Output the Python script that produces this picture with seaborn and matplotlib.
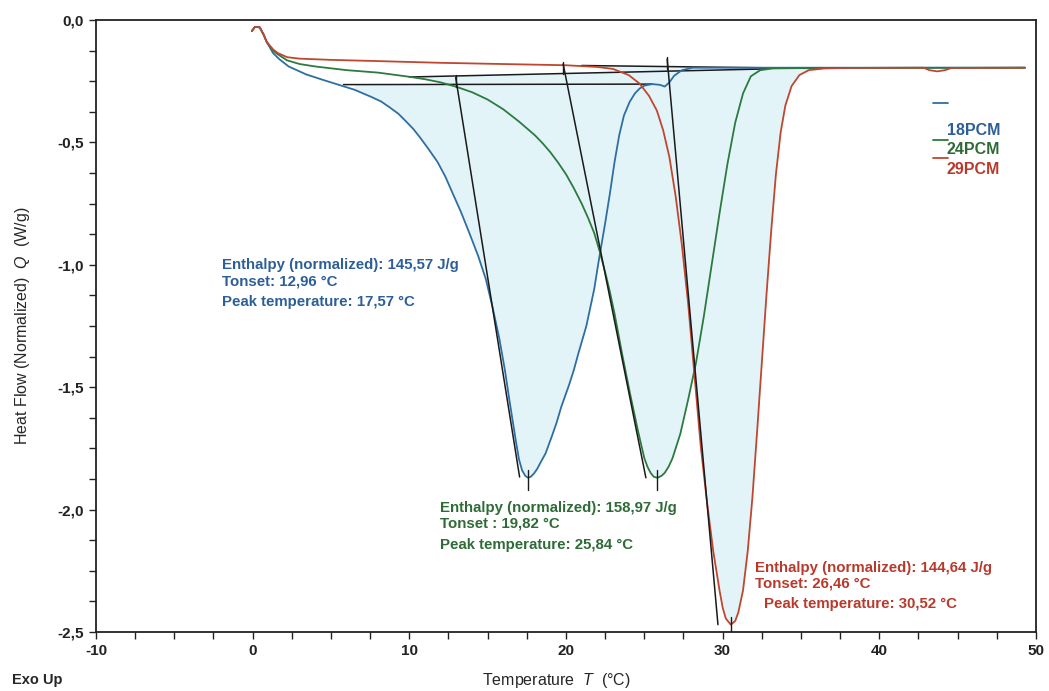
import numpy as np
import pandas as pd
import matplotlib
matplotlib.use("Agg")
import matplotlib.pyplot as plt
from matplotlib.ticker import MultipleLocator, FuncFormatter
import seaborn as sns

# DSC heating curves (T in °C, Q in W/g)
t_18 = [-0.05, 0.15, 0.45, 0.7, 0.9, 1.3, 1.7, 2.3, 3.4, 4.5, 5.5, 6.5, 7.6, 8.2, 8.7, 9.3,
        9.8, 10.25, 10.66, 11.2, 11.8, 12.3, 12.76, 13.3, 13.83, 14.4, 14.89, 15.3, 15.74,
        16.1, 16.38, 16.8, 17.0, 17.2, 17.4, 17.57, 17.75, 17.95, 18.15, 18.4, 18.7, 19.1,
        19.4, 19.7, 20.2, 20.5, 20.8, 21.3, 21.8, 22.1, 22.5, 22.8, 23.1, 23.4, 23.7, 24.06,
        24.4, 24.7, 25.0, 25.5, 26.0, 26.3, 26.6, 26.9, 27.4, 28.1, 35.0, 49.3]
q_18 = [-0.045, -0.028, -0.03, -0.06, -0.09, -0.135, -0.16, -0.19, -0.222, -0.245, -0.265,
        -0.285, -0.315, -0.333, -0.355, -0.383, -0.415, -0.445, -0.478, -0.525, -0.58,
        -0.64, -0.707, -0.785, -0.87, -0.965, -1.06, -1.17, -1.30, -1.43, -1.55, -1.72,
        -1.795, -1.84, -1.862, -1.87, -1.866, -1.853, -1.835, -1.805, -1.77, -1.70, -1.645,
        -1.58, -1.49, -1.43, -1.36, -1.25, -1.10, -0.98, -0.83, -0.71, -0.58, -0.47, -0.39,
        -0.335, -0.3, -0.28, -0.268, -0.262, -0.265, -0.272, -0.255, -0.228, -0.205,
        -0.195, -0.195, -0.195]

t_24 = [-0.05, 0.15, 0.45, 0.7, 0.9, 1.3, 1.6, 2.2, 3.0, 4.0, 6.0, 8.0, 10.0, 11.0, 12.0,
        13.0, 14.0, 15.0, 16.0, 17.0, 18.0, 18.5, 19.0, 19.5, 20.0, 20.5, 21.0, 21.4, 21.8,
        22.15, 22.5, 22.8, 23.1, 23.6, 24.1, 24.6, 25.0, 25.2, 25.4, 25.6, 25.84, 26.1,
        26.3, 26.55, 26.8, 27.3, 27.8, 28.3, 28.8, 29.3, 29.8, 30.3, 30.8, 31.3, 31.8, 32.4,
        33.2, 36.0, 49.3]
q_24 = [-0.045, -0.028, -0.03, -0.06, -0.09, -0.125, -0.14, -0.165, -0.18, -0.19, -0.205,
        -0.215, -0.232, -0.242, -0.255, -0.273, -0.295, -0.325, -0.365, -0.415, -0.47,
        -0.503, -0.54, -0.583, -0.63, -0.687, -0.75, -0.807, -0.87, -0.945, -1.03, -1.11,
        -1.2, -1.37, -1.53, -1.68, -1.79, -1.825, -1.85, -1.866, -1.87, -1.862, -1.85,
        -1.825, -1.79, -1.69, -1.55, -1.40, -1.21, -1.00, -0.79, -0.59, -0.42, -0.30,
        -0.23, -0.205, -0.198, -0.196, -0.195]

t_29 = [-0.05, 0.15, 0.45, 0.7, 0.9, 1.3, 1.6, 2.2, 3.0, 5.0, 8.0, 12.0, 16.0, 20.0, 22.0,
        23.0, 24.0, 24.7, 25.3, 25.8, 26.2, 26.6, 27.0, 27.4, 27.8, 28.2, 28.6, 29.0, 29.4,
        29.8, 30.0, 30.2, 30.52, 30.8, 31.0, 31.3, 31.6, 31.9, 32.2, 32.5, 32.8, 33.1, 33.4,
        33.7, 34.0, 34.4, 34.9, 35.5, 36.5, 38.0, 42.8, 43.2, 43.7, 44.2, 44.6, 49.3]
q_29 = [-0.045, -0.028, -0.03, -0.06, -0.09, -0.12, -0.135, -0.152, -0.158, -0.163, -0.168,
        -0.175, -0.18, -0.185, -0.192, -0.2, -0.225, -0.26, -0.31, -0.37, -0.45, -0.56,
        -0.72, -0.92, -1.16, -1.45, -1.74, -1.97, -2.17, -2.33, -2.40, -2.445, -2.47,
        -2.455, -2.42, -2.33, -2.17, -1.95, -1.68, -1.40, -1.12, -0.86, -0.63, -0.46,
        -0.35, -0.27, -0.225, -0.205, -0.198, -0.196, -0.195, -0.205, -0.21, -0.205,
        -0.196, -0.195]

samples = ["18PCM", "24PCM", "29PCM"]
colors = ["#2f6ea3", "#2d7a3e", "#c0462f"]
text_colors = ["#2c5f98", "#2e6b36", "#b83a2c"]

# integration baselines (start/end)
base_t = [[5.8, 25.5], [10.0, 32.8], [21.0, 36.0]]
base_q = [[-0.264, -0.262], [-0.233, -0.200], [-0.186, -0.198]]

# onset tangents
onset = [12.96, 19.82, 26.46]
tan_top_q = [-0.235, -0.18, -0.16]
tan_end_t = [17.04, 25.1, 29.7]
tan_end_q = [-1.867, -1.87, -2.47]

peak_t = [17.57, 25.84, 30.52]
peak_q = [-1.87, -1.87, -2.47]
enthalpy = [145.57, 158.97, 144.64]

curves = [(t_18, q_18), (t_24, q_24), (t_29, q_29)]
df = pd.concat([pd.DataFrame({"T": t, "Q": q, "sample": s})
                for (t, q), s in zip(curves, samples)], ignore_index=True)

sns.set_theme(style="ticks")
plt.rcParams["font.family"] = ["Liberation Sans", "DejaVu Sans"]
plt.rcParams["mathtext.fontset"] = "custom"
plt.rcParams["mathtext.it"] = "Liberation Sans:italic"
plt.rcParams["mathtext.rm"] = "Liberation Sans"

fig = plt.figure(figsize=(10.49, 6.91), dpi=100)
ax = fig.add_axes([0.0915, 0.0854, 0.8961, 0.8857])

fill_col = "#e3f4f9"
for (t, q), bt, bq in zip(curves, base_t, base_q):
    t = np.array(t); q = np.array(q)
    m = (t >= bt[0]) & (t <= bt[1])
    ax.fill_between(t[m], q[m], np.interp(t[m], bt, bq), color=fill_col, lw=0, zorder=1)

for bt, bq in zip(base_t, base_q):
    ax.plot(bt, bq, color="#1a1a1a", lw=1.1, zorder=2)

sns.lineplot(data=df, x="T", y="Q", hue="sample", palette=colors, sort=False,
             estimator=None, lw=1.3, legend=False, ax=ax, zorder=3)

for i in range(3):
    ax.plot([onset[i], tan_end_t[i]], [tan_top_q[i], tan_end_q[i]], color="#1a1a1a", lw=1.1, zorder=4)
    ax.plot([onset[i], onset[i]], [tan_top_q[i] + 0.01, tan_top_q[i] - 0.04], color="#1a1a1a", lw=1.0, zorder=4)
    ax.plot([peak_t[i], peak_t[i]], [peak_q[i] + 0.03, peak_q[i] - 0.05], color="#1a1a1a", lw=1.0, zorder=4)

def fmt(v):
    return f"{v:.2f}".replace(".", ",")

txt_pos = [(-1.98, [-1.0, -1.07, -1.152], [0, 0, 0]),
           (11.93, [-1.993, -2.055, -2.145], [0, 0, 0]),
           (32.04, [-2.24, -2.30, -2.386], [0, 0, 0.6])]
sep = [": ", " : ", ": "]
for i, (x0, ys, dx) in enumerate(txt_pos):
    lines = [f"Enthalpy (normalized): {fmt(enthalpy[i])} J/g",
             f"Tonset{sep[i]}{fmt(onset[i])} °C",
             f"Peak temperature: {fmt(peak_t[i])} °C"]
    for s, y, d in zip(lines, ys, dx):
        ax.text(x0 + d, y, s, color=text_colors[i], fontsize=10.8, fontweight="bold",
                va="center", ha="left", zorder=5)

# legend drawn like the instrument software: dash above-left of label
leg_dash_y = [0.864, 0.804, 0.775]
leg_text_y = [0.820, 0.788, 0.755]
for i in range(3):
    ax.plot([0.890, 0.906], [leg_dash_y[i]] * 2, color=colors[i], lw=1.3, transform=ax.transAxes)
    ax.text(0.905, leg_text_y[i], samples[i], color=text_colors[i], fontsize=11.5,
            fontweight="bold", va="center", ha="left", transform=ax.transAxes)

ax.set_xlim(-10, 50)
ax.set_ylim(-2.5, 0)
ax.xaxis.set_major_locator(MultipleLocator(10))
ax.xaxis.set_minor_locator(MultipleLocator(2.5))
ax.yaxis.set_major_locator(MultipleLocator(0.5))
ax.yaxis.set_minor_locator(MultipleLocator(0.125))
ax.yaxis.set_major_formatter(FuncFormatter(lambda v, p: f"{(0.0 if abs(v) < 1e-9 else v):.1f}".replace(".", ",")))
ax.xaxis.set_major_formatter(FuncFormatter(lambda v, p: f"{int(round(v))}"))
ax.tick_params(which="both", direction="out", length=5, width=1.0, colors="#222222",
               labelsize=11, top=False, right=False)
for lab in ax.get_xticklabels() + ax.get_yticklabels():
    lab.set_fontweight("bold")
for sp in ax.spines.values():
    sp.set_visible(True)
    sp.set_color("#222222")
    sp.set_linewidth(1.3)

ax.set_xlabel("Temperature  $\\mathit{T}$  (°C)", fontsize=11.5)
ax.xaxis.set_label_coords(0.49, -0.064)
ax.set_ylabel("Heat Flow (Normalized)  $\\mathit{Q}$  (W/g)", fontsize=11.5)
ax.yaxis.set_label_coords(-0.068, 0.5)
fig.text(12 / 1049, 1 - 680 / 691, "Exo Up", fontsize=10.5, fontweight="bold", va="center", ha="left")

fig.savefig("out.png", dpi=100)
